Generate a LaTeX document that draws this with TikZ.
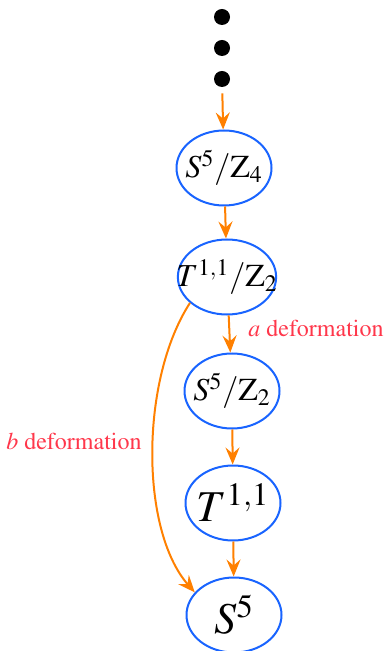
\documentclass[tikz,border=0pt]{standalone}
\usepackage{mathptmx}
\usepackage[T1]{fontenc}
\usepackage{xcolor}
\usepackage{tikz}
\usetikzlibrary{shapes.geometric,arrows.meta}
\definecolor{flowor}{RGB}{255,128,0}
\definecolor{ellblue}{RGB}{25,100,255}
\definecolor{labred}{RGB}{255,55,75}

\begin{document}
\begin{tikzpicture}[x=0.5pt, y=-0.5pt,
    space/.style={ellipse, draw=ellblue, line width=1pt, inner xsep=-8pt, inner ysep=0pt, minimum width=47.5pt, minimum height=37.5pt, font=\fontsize{16}{19}\selectfont},
    bigspace/.style={space, font=\fontsize{22}{26}\selectfont},
    dotnode/.style={circle, fill=black, inner sep=0pt, minimum size=8pt},
    flow/.style={flowor, line width=1pt, -{Stealth[length=8.5pt, width=7pt, inset=3pt]}},
    deflabel/.style={labred, font=\large}]
    \useasboundingbox (0,0) rectangle (388,651);
    % the tower of spaces
    \node[dotnode] (dot1) at (222,17) {};
    \node[dotnode] (dot2) at (222,48) {};
    \node[dotnode] (dot3) at (222,79) {};
    \node[space] (s5z4) at (224,168) {$S^5/\mathrm{Z}_4$};
    \node[space] (t11z2) at (227,277) {$T^{1,1}/\mathrm{Z}_2$};
    \node[space] (s5z2) at (232,391) {$S^5/\mathrm{Z}_2$};
    \node[bigspace] (t11) at (233,503) {$T^{1,1}$};
    \node[bigspace] (s5) at (234,615) {$S^5$};
    % arrows
    \draw[flow, shorten <=3pt] (dot3) -- (s5z4);
    \draw[flow] (s5z4) -- (t11z2);
    \draw[flow] (t11z2) -- (s5z2);
    \draw[flow] (s5z2) -- (t11);
    \draw[flow] (t11) -- (s5);
    \draw[flow] (t11z2.215) .. controls (140,380) and (140,530) .. (s5.150);
    % labels
    \node[deflabel] (alab) at (316,328) {$a$ deformation};
    \node[deflabel] (blab) at (74,441) {$b$ deformation};
\end{tikzpicture}
\end{document}
